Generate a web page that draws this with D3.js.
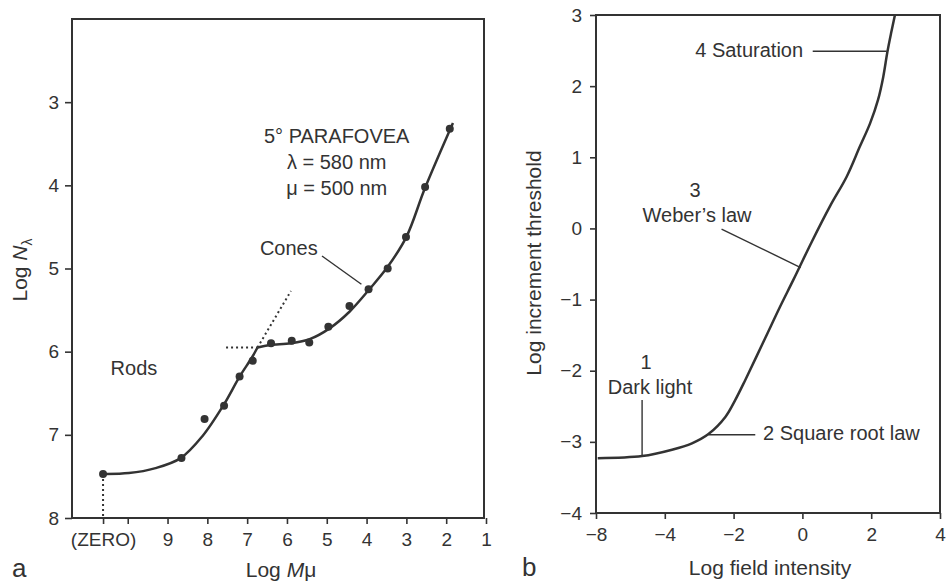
<!DOCTYPE html>
<html>
<head>
<meta charset="utf-8">
<script src="https://cdn.jsdelivr.net/npm/d3@7"></script>
<style>
  html, body { margin: 0; padding: 0; background: #fff; }
  svg { display: block; font-family: "Liberation Sans", Arial, Helvetica, sans-serif; }
  .frame { fill: none; stroke: #333; stroke-width: 2; }
  .axis .domain { display: none; }
  .axis line { stroke: #333; stroke-width: 1.6; }
  .axis text { fill: #333; font-size: 19px; }
  .curve { fill: none; stroke: #333; stroke-width: 2.5; }
  .dotted { fill: none; stroke: #333; stroke-width: 2; stroke-dasharray: 2,3; }
  .leader { stroke: #333; stroke-width: 1.4; }
  .note { fill: #333; font-size: 20px; }
  .title { fill: #333; font-size: 21px; }
  .panel-id { fill: #333; font-size: 26px; }
</style>
</head>
<body>
<svg id="chart" width="946" height="583"></svg>
<script>
  // ── Panel a: rod / cone dark adaptation (5° parafovea) ──────────────────────
  // x axis is Log Mμ, reversed; "(ZERO)" sits left of 10
  const zeroPos = 10.62;
  const aTickValues = [zeroPos, 10, 9, 8, 7, 6, 5, 4, 3, 2, 1];
  const aTickLabels = ['(ZERO)', '', '9', '8', '7', '6', '5', '4', '3', '2', '1'];
  const aYTicks = [3, 4, 5, 6, 7, 8];

  const rodDots  = [[10.62, 7.47], [8.65, 7.28], [8.07, 6.81], [7.58, 6.65], [7.19, 6.30], [6.86, 6.11]];
  const coneDots = [[6.40, 5.90], [5.88, 5.87], [5.44, 5.89], [4.96, 5.70], [4.43, 5.45], [3.95, 5.25],
                    [3.47, 5.00], [3.01, 4.62], [2.53, 4.02], [1.91, 3.32]];

  const rodCurve  = [[10.62, 7.47], [9.97, 7.46], [9.30, 7.40], [8.67, 7.28], [8.13, 7.02], [7.59, 6.64],
                     [7.19, 6.30], [6.88, 6.07], [6.74, 5.95]];
  const coneCurve = [[6.74, 5.95], [6.43, 5.92], [5.90, 5.90], [5.43, 5.85], [4.93, 5.72], [4.43, 5.52],
                     [3.93, 5.25], [3.47, 4.98], [3.00, 4.62], [2.53, 4.03], [1.83, 3.25]];

  const zeroDrop  = [[zeroPos, 7.47], [zeroPos, 8]];
  const rodLevel  = [[7.53, 5.95], [6.74, 5.95]];
  const coneSlope = [[6.74, 5.95], [5.90, 5.27]];

  // ── Panel b: increment threshold vs field intensity ─────────────────────────
  // ticks are evenly spaced, the first one is printed as −8
  const bTickValues = [-6, -4, -2, 0, 2, 4];
  const bTickLabels = ['\u22128', '\u22124', '\u22122', '0', '2', '4'];
  const bYTicks = [3, 2, 1, 0, -1, -2, -3, -4];

  const tviCurve = [[-5.95, -3.23], [-4.66, -3.20], [-3.79, -3.11], [-3.21, -3.02], [-2.73, -2.89],
                    [-2.24, -2.65], [-1.95, -2.41], [-1.66, -2.13], [-1.08, -1.54], [-0.65, -1.10],
                    [-0.26, -0.72], [0.27, -0.19], [0.80, 0.31], [1.29, 0.73], [1.67, 1.15],
                    [1.97, 1.48], [2.20, 1.81], [2.35, 2.13], [2.47, 2.48], [2.58, 2.75], [2.69, 3.00]];

  const fmtMinus = v => v < 0 ? '\u2212' + Math.abs(v) : String(v);

  const svg = d3.select('#chart');

  // ── Panel a ─────────────────────────────────────────────────────────────────
  const ax = d3.scaleLinear().domain([11.4, 1.0]).range([72, 486]);
  const ay = d3.scaleLinear().domain([2, 8]).range([19, 518]);
  const ga = svg.append('g');

  ga.append('g').attr('class', 'axis')
    .attr('transform', `translate(${ax.range()[0]},0)`)
    .call(d3.axisLeft(ay).tickValues(aYTicks).tickSize(7).tickPadding(6).tickSizeOuter(0)
      .tickFormat(d3.format('d')));

  ga.append('g').attr('class', 'axis')
    .attr('transform', `translate(0,${ay.range()[1]})`)
    .call(d3.axisBottom(ax).tickValues(aTickValues).tickSize(6).tickPadding(9).tickSizeOuter(0)
      .tickFormat((d, i) => aTickLabels[i]));

  ga.append('rect').attr('class', 'frame')
    .attr('x', ax.range()[0]).attr('y', ay.range()[0])
    .attr('width', ax.range()[1] - ax.range()[0] - 2).attr('height', ay.range()[1] - ay.range()[0]);

  const lineA = d3.line().x(d => ax(d[0])).y(d => ay(d[1]));
  const smoothA = d3.line().x(d => ax(d[0])).y(d => ay(d[1])).curve(d3.curveCatmullRom.alpha(0.5));

  [zeroDrop, rodLevel, coneSlope].forEach(seg => {
    ga.append('path').attr('class', 'dotted').attr('d', lineA(seg));
  });
  ga.append('path').attr('class', 'curve').attr('d', smoothA(rodCurve));
  ga.append('path').attr('class', 'curve').attr('d', smoothA(coneCurve));

  ga.selectAll('circle.dot').data(rodDots.concat(coneDots)).join('circle')
    .attr('class', 'dot').attr('r', 4).attr('fill', '#333')
    .attr('cx', d => ax(d[0])).attr('cy', d => ay(d[1]));

  // annotations
  const paraX = ax(4.75);
  [['5\u00B0 PARAFOVEA', 143], ['\u03BB = 580 nm', 169], ['\u03BC = 500 nm', 195]].forEach(([t, y]) => {
    ga.append('text').attr('class', 'note').attr('x', paraX).attr('y', y)
      .attr('text-anchor', 'middle').text(t);
  });
  ga.append('text').attr('class', 'note').attr('x', ax(6.68)).attr('y', ay(4.84)).text('Cones');
  ga.append('line').attr('class', 'leader')
    .attr('x1', ax(5.12)).attr('y1', ay(4.85)).attr('x2', ax(4.13)).attr('y2', ay(5.19));
  ga.append('text').attr('class', 'note').attr('x', ax(10.43)).attr('y', ay(6.28)).text('Rods');

  // axis titles
  const aTitleY = ga.append('text').attr('class', 'title')
    .attr('transform', 'translate(27,270) rotate(-90)').attr('text-anchor', 'middle');
  aTitleY.append('tspan').text('Log ');
  aTitleY.append('tspan').attr('font-style', 'italic').text('N');
  aTitleY.append('tspan').attr('font-size', '14px').attr('dy', 5).text('\u03BB');

  const aTitleX = ga.append('text').attr('class', 'title')
    .attr('x', 281).attr('y', 577).attr('text-anchor', 'middle');
  aTitleX.append('tspan').text('Log ');
  aTitleX.append('tspan').attr('font-style', 'italic').text('M');
  aTitleX.append('tspan').text('\u03BC');

  ga.append('text').attr('class', 'panel-id').attr('x', 12).attr('y', 577).text('a');

  // ── Panel b ─────────────────────────────────────────────────────────────────
  const bx = d3.scaleLinear().domain([-6, 4]).range([596, 940]);
  const by = d3.scaleLinear().domain([3, -4]).range([15, 513]);
  const gb = svg.append('g');

  gb.append('g').attr('class', 'axis')
    .attr('transform', `translate(${bx.range()[0]},0)`)
    .call(d3.axisLeft(by).tickValues(bYTicks).tickSize(6).tickPadding(8).tickSizeOuter(0)
      .tickFormat(fmtMinus));

  gb.append('g').attr('class', 'axis')
    .attr('transform', `translate(0,${by.range()[1]})`)
    .call(d3.axisBottom(bx).tickValues(bTickValues).tickSize(6).tickPadding(9).tickSizeOuter(0)
      .tickFormat((d, i) => bTickLabels[i]));

  gb.append('rect').attr('class', 'frame')
    .attr('x', bx.range()[0]).attr('y', by.range()[0])
    .attr('width', bx.range()[1] - bx.range()[0]).attr('height', by.range()[1] - by.range()[0]);

  gb.append('clipPath').attr('id', 'clip-b').append('rect')
    .attr('x', bx.range()[0]).attr('y', by.range()[0])
    .attr('width', bx.range()[1] - bx.range()[0]).attr('height', by.range()[1] - by.range()[0]);

  const smoothB = d3.line().x(d => bx(d[0])).y(d => by(d[1])).curve(d3.curveCatmullRom.alpha(0.5));
  gb.append('path').attr('class', 'curve').attr('clip-path', 'url(#clip-b)').attr('d', smoothB(tviCurve));

  // annotations
  gb.append('text').attr('class', 'note').attr('x', bx(0.02)).attr('y', 57)
    .attr('text-anchor', 'end').text('4 Saturation');
  gb.append('line').attr('class', 'leader')
    .attr('x1', bx(0.30)).attr('y1', by(2.49)).attr('x2', bx(2.45)).attr('y2', by(2.49));

  gb.append('text').attr('class', 'note').attr('x', 695).attr('y', 197).attr('text-anchor', 'middle').text('3');
  gb.append('text').attr('class', 'note').attr('x', 697).attr('y', 222).attr('text-anchor', 'middle').text('Weber\u2019s law');
  gb.append('line').attr('class', 'leader')
    .attr('x1', bx(-2.35)).attr('y1', by(-0.01)).attr('x2', bx(-0.05)).attr('y2', by(-0.55));

  gb.append('text').attr('class', 'note').attr('x', 646).attr('y', 369).attr('text-anchor', 'middle').text('1');
  gb.append('text').attr('class', 'note').attr('x', 650).attr('y', 394).attr('text-anchor', 'middle').text('Dark light');
  gb.append('line').attr('class', 'leader')
    .attr('x1', bx(-4.66)).attr('y1', by(-2.41)).attr('x2', bx(-4.66)).attr('y2', by(-3.20));

  gb.append('text').attr('class', 'note').attr('x', 763).attr('y', 440).text('2 Square root law');
  gb.append('line').attr('class', 'leader')
    .attr('x1', bx(-2.73)).attr('y1', by(-2.90)).attr('x2', bx(-1.37)).attr('y2', by(-2.90));

  gb.append('text').attr('class', 'title')
    .attr('transform', 'translate(541,263) rotate(-90)').attr('text-anchor', 'middle')
    .text('Log increment threshold');
  gb.append('text').attr('class', 'title').attr('x', 770).attr('y', 575)
    .attr('text-anchor', 'middle').text('Log field intensity');

  gb.append('text').attr('class', 'panel-id').attr('x', 522).attr('y', 576).text('b');
</script>
</body>
</html>
